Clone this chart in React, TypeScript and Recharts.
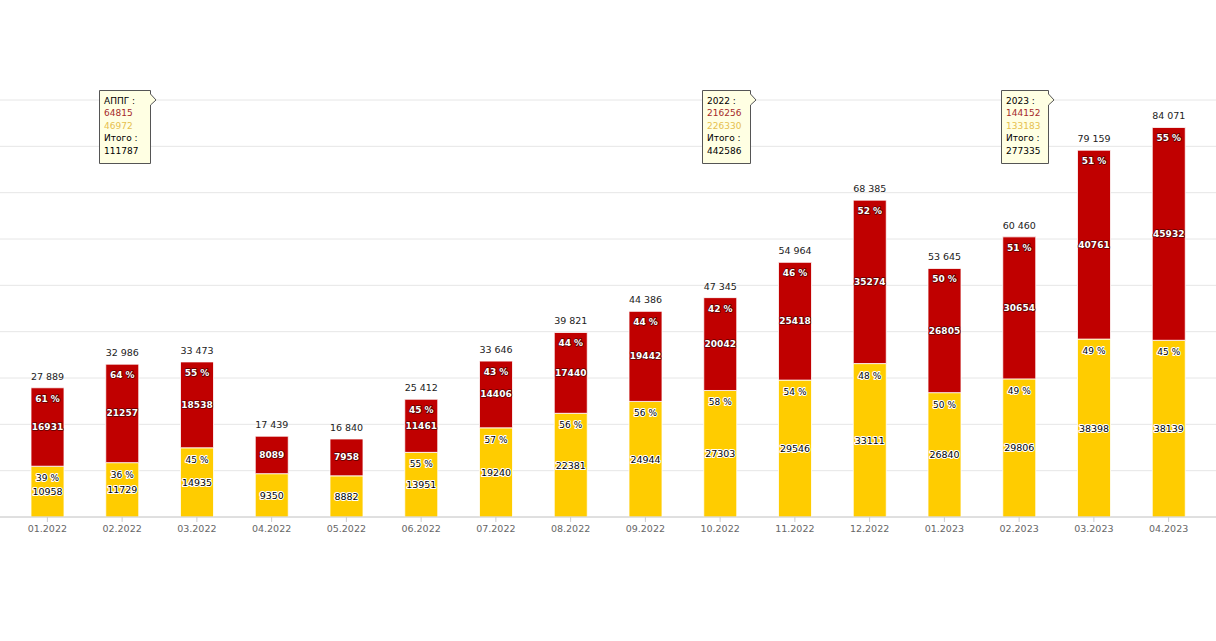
import { BarChart, Bar, XAxis, YAxis, CartesianGrid, LabelList } from "recharts";

// месяцы и значения (нижний сегмент - жёлтый, верхний - красный)
const months = [
  "01.2022", "02.2022", "03.2022", "04.2022", "05.2022", "06.2022", "07.2022", "08.2022",
  "09.2022", "10.2022", "11.2022", "12.2022", "01.2023", "02.2023", "03.2023", "04.2023",
];
const yellowValues = [
  10958, 11729, 14935, 9350, 8882, 13951, 19240, 22381,
  24944, 27303, 29546, 33111, 26840, 29806, 38398, 38139,
];
const redValues = [
  16931, 21257, 18538, 8089, 7958, 11461, 14406, 17440,
  19442, 20042, 25418, 35274, 26805, 30654, 40761, 45932,
];
// проценты как на картинке (для 04 и 05.2022 их нет)
const redPct = [61, 64, 55, null, null, 45, 43, 44, 44, 42, 46, 52, 50, 51, 51, 55];
const yellowPct = [39, 36, 45, null, null, 55, 57, 56, 56, 58, 54, 48, 50, 49, 49, 45];
const yTicks = [0, 10000, 20000, 30000, 40000, 50000, 60000, 70000, 80000, 90000];

// подсказки-выноски
const noteTitles = ["АППГ :", "2022 :", "2023 :"];
const noteRed = ["64815", "216256", "144152"];
const noteYellow = ["46972", "226330", "133183"];
const noteTotal = ["111787", "442586", "277335"];

const RED = "#c00000";
const YELLOW = "#ffcc00";
const FONT = "'DejaVu Sans', Verdana, sans-serif";

const data = months.map((m, i) => ({
  month: m,
  yellow: yellowValues[i],
  red: redValues[i],
}));

const fmt = (n: number) => String(n).replace(/\B(?=(\d{3})+(?!\d))/g, " ");

const yellowLabel = (props: any) => {
  const { x, y, width, height, index } = props;
  const cx = x + width / 2;
  const pct = yellowPct[index];
  return (
    <g fontFamily={FONT} textAnchor="middle" fill="#000" stroke="#fff" strokeWidth={2.2} paintOrder="stroke" strokeLinejoin="round">
      {pct != null && (
        <text x={cx} y={y + 12} dominantBaseline="central" fontSize={9}>
          {pct} %
        </text>
      )}
      <text x={cx} y={y + height / 2} dominantBaseline="central" fontSize={9.5}>
        {yellowValues[index]}
      </text>
    </g>
  );
};

const redLabel = (props: any) => {
  const { x, y, width, height, index } = props;
  const cx = x + width / 2;
  const pct = redPct[index];
  const total = yellowValues[index] + redValues[index];
  return (
    <g fontFamily={FONT} textAnchor="middle">
      <g fill="#fff" stroke="#5a0000" strokeWidth={1.6} paintOrder="stroke" strokeLinejoin="round" fontWeight="bold">
        {pct != null && (
          <text x={cx} y={y + 11} dominantBaseline="central" fontSize={9}>
            {pct} %
          </text>
        )}
        <text x={cx} y={y + height / 2} dominantBaseline="central" fontSize={9}>
          {redValues[index]}
        </text>
      </g>
      <text x={cx} y={y - 11.5} dominantBaseline="central" fontSize={9.5} fill="#222">
        {fmt(total)}
      </text>
    </g>
  );
};

const noteLeft = [99, 702, 1001];
const noteWidth = [52, 49, 48];

function Note({ i }: { i: number }) {
  const w = noteWidth[i];
  const h = 74;
  const path = `M3,0.5 H${w - 0.5} V4 L${w + 5},10 L${w - 0.5},15 V${h - 0.5} H0.5 V0.5 Z`;
  const lines = [
    { t: noteTitles[i], c: "#000" },
    { t: noteRed[i], c: "#a52a2a" },
    { t: noteYellow[i], c: "#e6c04e" },
    { t: "Итого :", c: "#000" },
    { t: noteTotal[i], c: "#000" },
  ];
  return (
    <svg
      width={w + 8}
      height={h + 4}
      style={{ position: "absolute", left: noteLeft[i], top: 90, overflow: "visible" }}
    >
      <path d={path} fill="#ffffe3" stroke="#555" strokeWidth={1} />
      {lines.map((l, k) => (
        <text key={k} x={5} y={10.5 + k * 12.6} dominantBaseline="central" fontSize={9} fontFamily={FONT} fill={l.c}>
          {l.t}
        </text>
      ))}
    </svg>
  );
}

export default function App() {
  return (
    <div style={{ position: "absolute", left: 0, top: 0, width: 1216, height: 641, background: "#fff" }}>
      <BarChart
        width={1216}
        height={641}
        data={data}
        margin={{ top: 100, right: 0, bottom: 94, left: 0 }}
        barSize={33}
      >
        <CartesianGrid vertical={false} stroke="#e6e6e6" />
        <XAxis
          dataKey="month"
          padding={{ left: 10, right: 10 }}
          stroke="#cccccc"
          tickSize={5}
          tickMargin={3}
          tick={{ fill: "#666", fontSize: 9.5, fontFamily: FONT }}
          interval={0}
          height={30}
        />
        <YAxis hide domain={[0, 90000]} ticks={yTicks} />
        <Bar dataKey="yellow" stackId="a" fill={YELLOW} stroke="#fff" strokeWidth={0.8} isAnimationActive={false}>
          <LabelList dataKey="yellow" content={yellowLabel} />
        </Bar>
        <Bar dataKey="red" stackId="a" fill={RED} stroke="#fff" strokeWidth={0.8} isAnimationActive={false}>
          <LabelList dataKey="red" content={redLabel} />
        </Bar>
      </BarChart>
      {noteTitles.map((_, i) => (
        <Note key={i} i={i} />
      ))}
    </div>
  );
}
